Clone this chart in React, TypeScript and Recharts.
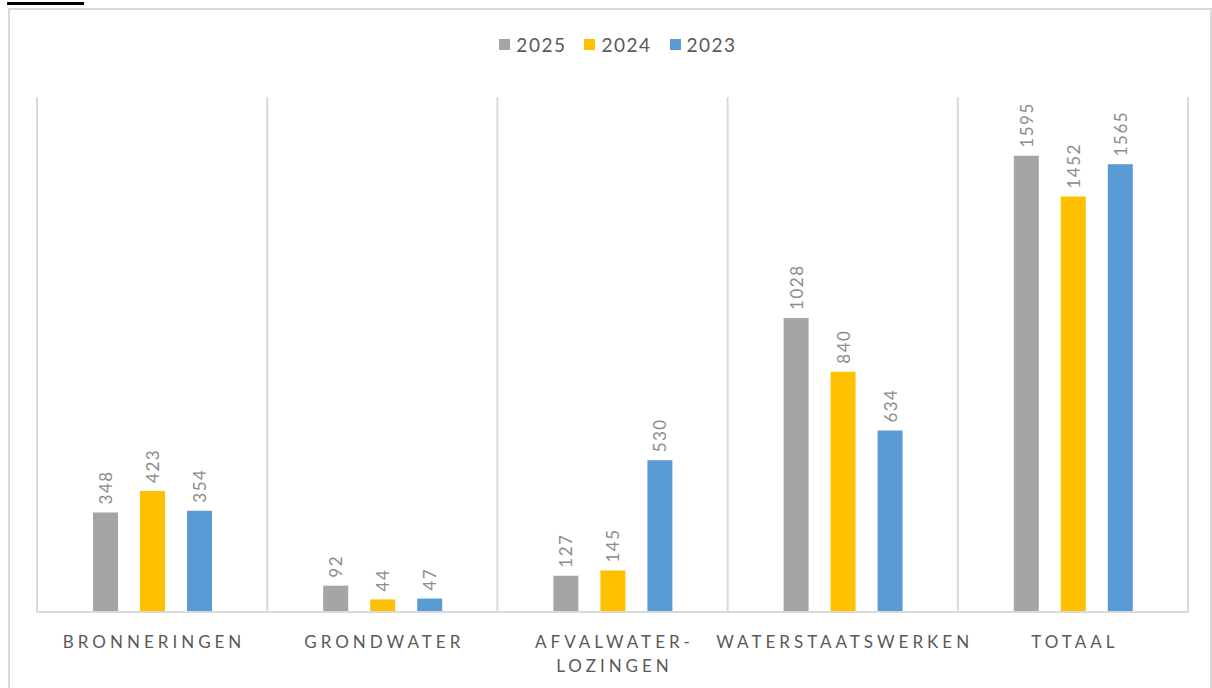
import { BarChart, Bar, XAxis, YAxis, CartesianGrid, LabelList } from 'recharts'

const categories = ['BRONNERINGEN', 'GRONDWATER', 'AFVALWATER-LOZINGEN', 'WATERSTAATSWERKEN', 'TOTAAL']
const values2025 = [348, 92, 127, 1028, 1595]
const values2024 = [423, 44, 145, 840, 1452]
const values2023 = [354, 47, 530, 634, 1565]
const seriesNames = ['2025', '2024', '2023']
const seriesColors = ['#a5a5a5', '#ffc000', '#5b9bd5']

const data = categories.map((c, i) => ({
  name: c,
  '2025': values2025[i],
  '2024': values2024[i],
  '2023': values2023[i],
}))

const FONT = 'Lato, "Liberation Sans", sans-serif'

function CategoryTick({ x, y, payload }: any) {
  const label: string = payload.value
  const idx = label.indexOf('-')
  const lines = idx >= 0 ? [label.slice(0, idx + 1), label.slice(idx + 1)] : [label]
  return (
    <text x={x} y={y} textAnchor="middle" fill="#595959" fontSize={17} fontFamily={FONT} letterSpacing={4}>
      {lines.map((l, i) => (
        <tspan key={i} x={x + 2} dy={i === 0 ? 28 : 24}>{l}</tspan>
      ))}
    </text>
  )
}

function ValueLabel({ x, y, width, value }: any) {
  const cx = x + width / 2
  const ty = y - 8
  return (
    <text
      x={cx}
      y={ty}
      transform={`rotate(-90 ${cx} ${ty})`}
      textAnchor="start"
      dominantBaseline="central"
      fill="#8c8c8c"
      fontSize={17}
      fontFamily={FONT}
      letterSpacing={1.5}
    >
      {value}
    </text>
  )
}

export default function App() {
  return (
    <div style={{ position: 'absolute', left: 0, top: 0, width: 1212, height: 688, background: '#fff', overflow: 'hidden' }}>
      <div style={{ position: 'absolute', left: 7, top: 2, width: 77, height: 3, background: '#000' }} />
      <div style={{ position: 'absolute', left: 8, top: 8, width: 1200, height: 700, border: '2px solid #d9d9d9' }} />
      <div
        style={{
          position: 'absolute', top: 33, left: 0, width: 1236, display: 'flex', justifyContent: 'center',
          fontFamily: FONT, fontSize: 19, color: '#595959', letterSpacing: 1.5,
        }}
      >
        {seriesNames.map((s, i) => (
          <div key={s} style={{ display: 'flex', alignItems: 'center', marginLeft: i === 0 ? 0 : 18 }}>
            <span style={{ display: 'inline-block', width: 11, height: 11, background: seriesColors[i], marginRight: 6 }} />
            <span>{s}</span>
          </div>
        ))}
      </div>
      <div style={{ position: 'absolute', left: 0, top: 0 }}>
        <BarChart
          width={1212}
          height={688}
          data={data}
          margin={{ top: 97, right: 24, bottom: 0, left: 37 }}
          barSize={25}
          barGap={22}
        >
          <CartesianGrid
            horizontal={false}
            stroke="#d9d9d9"
            strokeWidth={2}
            verticalCoordinatesGenerator={({ offset }: any) =>
              categories.map((_, i) => offset.left + (i * offset.width) / categories.length).concat(offset.left + offset.width)
            }
          />
          <XAxis
            dataKey="name"
            height={76}
            interval={0}
            tickLine={false}
            axisLine={{ stroke: '#d9d9d9', strokeWidth: 2 }}
            tick={<CategoryTick />}
          />
          <YAxis hide domain={[0, 1800]} />
          {seriesNames.map((s, i) => (
            <Bar key={s} dataKey={s} fill={seriesColors[i]} isAnimationActive={false}>
              <LabelList dataKey={s} content={<ValueLabel />} />
            </Bar>
          ))}
        </BarChart>
      </div>
    </div>
  )
}
